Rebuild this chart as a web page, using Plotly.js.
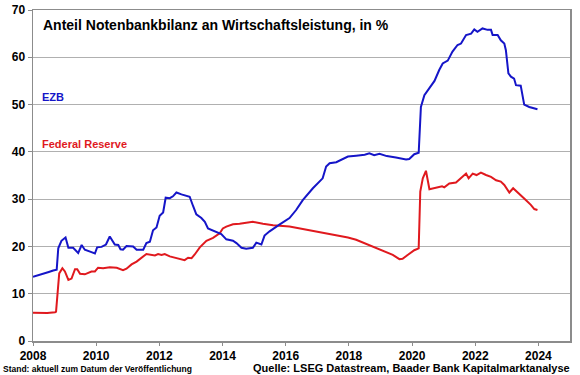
<!DOCTYPE html>
<html>
<head>
<meta charset="utf-8">
<script src="https://cdn.plot.ly/plotly-3.0.1.min.js"></script>
<style>html,body{margin:0;padding:0;background:#fff;}#chart{width:580px;height:375px;}</style>
</head>
<body>
<div id="chart"></div>
<script>
const ezbYears = [2008.0,2008.1,2008.2,2008.33,2008.5,2008.64,2008.75,2008.8,2008.9,2009.03,2009.12,2009.27,2009.43,2009.54,2009.64,2009.85,2009.96,2010.03,2010.17,2010.31,2010.43,2010.59,2010.7,2010.77,2010.85,2010.96,2011.17,2011.28,2011.49,2011.59,2011.7,2011.8,2011.91,2012.01,2012.12,2012.2,2012.33,2012.43,2012.54,2012.7,2012.96,2013.07,2013.17,2013.33,2013.44,2013.54,2013.7,2013.96,2014.12,2014.33,2014.44,2014.6,2014.75,2014.96,2015.07,2015.17,2015.23,2015.33,2015.49,2015.8,2016.12,2016.33,2016.54,2016.86,2017.17,2017.28,2017.39,2017.6,2017.76,2017.97,2018.23,2018.5,2018.65,2018.8,2018.97,2019.2,2019.49,2019.81,2019.91,2020.07,2020.21,2020.28,2020.39,2020.55,2020.71,2020.86,2020.97,2021.13,2021.28,2021.44,2021.55,2021.71,2021.87,2021.97,2022.07,2022.23,2022.39,2022.5,2022.55,2022.71,2022.81,2022.92,2022.97,2023.05,2023.13,2023.23,2023.29,2023.44,2023.55,2023.71,2023.97];
const ezbValues = [13.6,13.8,14.0,14.1,14.6,14.9,15.1,19.6,21.2,21.9,19.7,19.7,18.6,20.3,19.3,18.8,18.5,19.8,19.9,20.4,22.1,20.4,20.3,19.4,19.3,20.1,20.0,19.3,19.3,20.7,21.0,23.4,24.0,26.5,27.2,30.3,30.2,30.6,31.4,31.0,30.5,28.5,26.8,26.0,25.2,23.8,23.3,22.6,21.5,21.2,20.7,19.7,19.5,19.7,20.8,20.6,20.4,22.3,23.2,24.6,26.0,27.7,29.8,32.3,34.4,36.9,37.6,37.8,38.3,39.0,39.2,39.4,39.7,39.3,39.6,39.1,38.8,38.4,38.5,39.5,39.8,49.5,52.0,53.6,55.0,57.3,58.7,59.3,61.2,62.6,62.9,64.7,65.0,65.9,65.4,66.1,65.8,65.8,64.7,64.7,63.6,62.9,61.5,56.6,55.9,55.5,54.1,54.0,50.0,49.5,49.0];

const fedYears = [2008.0,2008.22,2008.45,2008.7,2008.73,2008.83,2008.93,2009.01,2009.12,2009.22,2009.33,2009.4,2009.49,2009.64,2009.75,2009.85,2009.96,2010.06,2010.22,2010.43,2010.65,2010.85,2010.96,2011.12,2011.28,2011.49,2011.59,2011.86,2011.96,2012.07,2012.17,2012.33,2012.65,2012.8,2012.91,2013.02,2013.12,2013.28,2013.49,2013.7,2013.91,2014.01,2014.12,2014.33,2014.54,2014.8,2014.96,2015.28,2015.6,2016.12,2016.54,2017.07,2017.6,2017.97,2018.23,2018.65,2019.07,2019.39,2019.6,2019.7,2019.86,2020.07,2020.21,2020.26,2020.34,2020.44,2020.55,2020.76,2020.95,2021.02,2021.18,2021.39,2021.55,2021.71,2021.79,2021.92,2022.04,2022.18,2022.34,2022.5,2022.66,2022.81,2022.92,2023.08,2023.2,2023.39,2023.6,2023.76,2023.87,2023.97];
const fedValues = [6.0,5.9,5.9,6.1,6.2,14.3,15.4,14.7,12.9,13.2,15.2,15.2,14.2,14.1,14.5,14.7,14.7,15.5,15.4,15.6,15.5,15.0,15.3,16.2,16.8,18.0,18.4,18.1,18.4,18.2,18.4,17.9,17.3,17.1,17.6,17.5,18.3,19.8,21.2,21.8,22.8,23.8,24.2,24.7,24.8,25.1,25.2,24.8,24.5,24.2,23.7,23.1,22.4,21.9,21.4,20.3,19.2,18.2,17.3,17.4,18.2,19.2,19.6,31.6,34.4,36.0,32.1,32.5,32.7,32.5,33.3,33.5,34.4,35.4,34.4,35.4,35.1,35.6,35.1,34.7,34.0,33.7,33.0,31.4,32.3,31.2,29.8,28.8,27.9,27.7];

const xTicks = [2008,2010,2012,2014,2016,2018,2020,2022,2024];
const yTicks = [0,10,20,30,40,50,60,70];
const seriesNames = ["EZB","Federal Reserve"];
const titleText = "Anteil Notenbankbilanz an Wirtschaftsleistung, in %";
const noteLeft = "Stand: aktuell zum Datum der Veröffentlichung";
const noteRight = "Quelle: LSEG Datastream, Baader Bank Kapitalmarktanalyse";

const blue = "#1515c8";
const red = "#e0191e";
const fontFam = "Liberation Sans, Arial, sans-serif";

const traces = [
  {x: fedYears, y: fedValues, name: seriesNames[1], type: "scatter", mode: "lines",
   line: {color: red, width: 2}},
  {x: ezbYears, y: ezbValues, name: seriesNames[0], type: "scatter", mode: "lines",
   line: {color: blue, width: 2}}
];

const layout = {
  width: 580, height: 375,
  margin: {l: 33, r: 10, t: 10, b: 34},
  paper_bgcolor: "#fff", plot_bgcolor: "#fff",
  showlegend: false,
  font: {family: fontFam, color: "#000"},
  xaxis: {
    range: [2008, 2025], tickvals: xTicks, ticktext: xTicks.map(String),
    showgrid: false, zeroline: false, showline: true, mirror: true,
    linecolor: "#8c8c8c", linewidth: 1.5,
    ticks: "outside", ticklen: 3, tickcolor: "#8c8c8c",
    tickfont: {family: fontFam, size: 12, weight: "bold", color: "#000"}
  },
  yaxis: {
    range: [0, 70], tickvals: yTicks, ticktext: yTicks.map(String),
    showgrid: true, gridcolor: "#b0b0b0", gridwidth: 1,
    zeroline: false, showline: true, mirror: true,
    linecolor: "#8c8c8c", linewidth: 1.5,
    ticks: "outside", ticklen: 4, tickcolor: "#8c8c8c",
    tickfont: {family: fontFam, size: 12, weight: "bold", color: "#000"}
  },
  annotations: [
    {text: titleText, xref: "paper", yref: "paper", x: 0.014, y: 0.955,
     xanchor: "left", yanchor: "middle", showarrow: false,
     font: {family: fontFam, size: 14, weight: "bold", color: "#000"}},
    {text: seriesNames[0], xref: "paper", yref: "paper", x: 0.013, y: 0.737,
     xanchor: "left", yanchor: "middle", showarrow: false,
     font: {family: fontFam, size: 11, weight: "bold", color: blue}},
    {text: seriesNames[1], xref: "paper", yref: "paper", x: 0.013, y: 0.595,
     xanchor: "left", yanchor: "middle", showarrow: false,
     font: {family: fontFam, size: 11, weight: "bold", color: red}},
    {text: noteLeft, xref: "paper", yref: "paper", x: -0.06, y: -0.085,
     xanchor: "left", yanchor: "middle", showarrow: false,
     font: {family: fontFam, size: 8.5, weight: "bold", color: "#000"}},
    {text: noteRight, xref: "paper", yref: "paper", x: 1.004, y: -0.082,
     xanchor: "right", yanchor: "middle", showarrow: false,
     font: {family: fontFam, size: 11, weight: "bold", color: "#000"}}
  ]
};

Plotly.newPlot("chart", traces, layout, {displayModeBar: false, staticPlot: true});
</script>
</body>
</html>
